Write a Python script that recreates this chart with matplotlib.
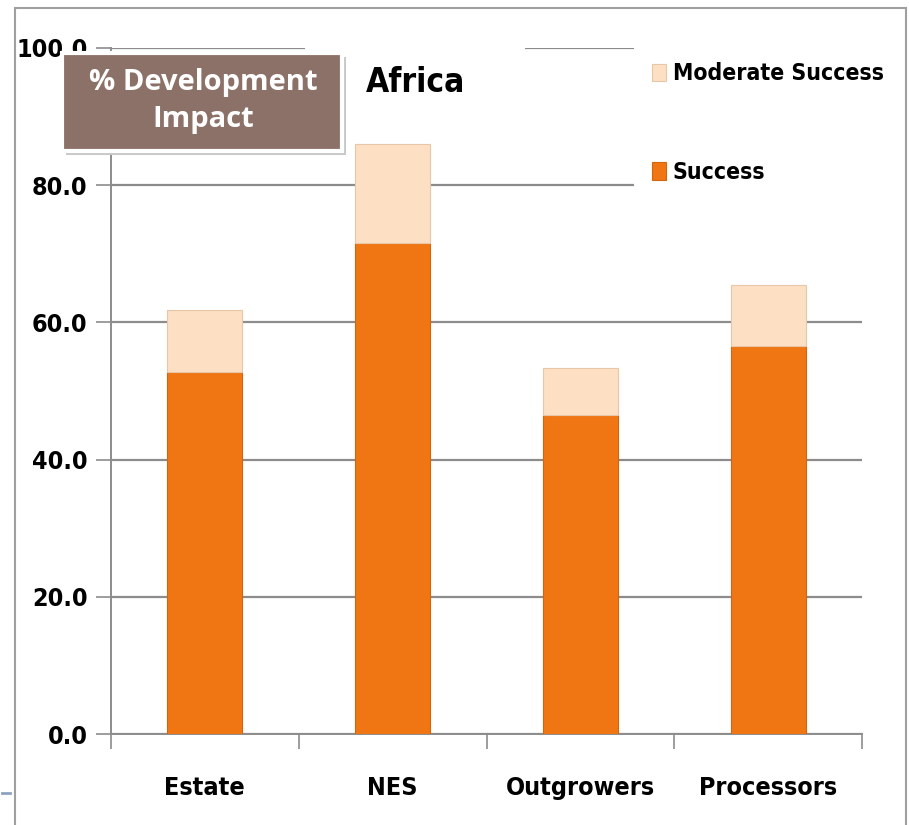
import matplotlib
matplotlib.use("Agg")
import matplotlib.pyplot as plt
import numpy as np
from matplotlib.patches import Rectangle
from matplotlib.lines import Line2D

plt.rcParams["font.family"] = ["DejaVu Sans"]
plt.rcParams["font.stretch"] = "condensed"

CATEGORIES = ["Estate", "NES", "Outgrowers", "Processors"]
SUCCESS = [52.8, 71.6, 46.5, 56.6]
MODERATE = [9.0, 14.4, 6.9, 8.9]
YTICKS = [0, 20, 40, 60, 80, 100]

COLOR_SUCCESS = "#F07613"
COLOR_MODERATE = "#FDE0C4"
GRID = "#8c8c8c"

fig = plt.figure(figsize=(9.09, 8.25), dpi=100)
fig.patch.set_facecolor("white")

# outer slide frame
fig.add_artist(Rectangle((15 / 909, -0.01), 891 / 909, 1 - 8 / 825 + 0.01,
                         transform=fig.transFigure, fill=False,
                         edgecolor="#a0a0a0", linewidth=1.5))
fig.add_artist(Line2D([2 / 909, 10 / 909], [1 - 793 / 825] * 2,
                      transform=fig.transFigure, color="#8fa3c0", linewidth=2))

ax = fig.add_axes([111 / 909, 1 - 734 / 825, 751 / 909, 686 / 825])
x = np.arange(len(CATEGORIES))
w = 0.4
ax.bar(x, SUCCESS, w, color=COLOR_SUCCESS, edgecolor="#d4650f", linewidth=0.8,
       label="Success", zorder=3)
ax.bar(x, MODERATE, w, bottom=SUCCESS, color=COLOR_MODERATE, edgecolor="#e8c7a8",
       linewidth=0.8, label="Moderate Success", zorder=3)

ax.set_xlim(-0.5, len(CATEGORIES) - 0.5)
ax.set_ylim(0, 100)
ax.set_yticks(YTICKS)
ax.set_yticklabels([f"{v:.1f}" for v in YTICKS], fontsize=18, fontweight="bold")
ax.set_xticks(x)
ax.set_xticklabels(CATEGORIES, fontsize=18, fontweight="bold")
ax.set_xticks(np.arange(-0.5, len(CATEGORIES)), minor=True)
ax.tick_params(axis="x", which="major", length=0, pad=30)
ax.tick_params(axis="x", which="minor", length=11, color=GRID, width=1.2)
ax.tick_params(axis="y", length=11, color=GRID, width=1.2, pad=6)
ax.yaxis.grid(True, color=GRID, linewidth=1.6, zorder=0)
ax.set_axisbelow(True)
for side in ["top", "right"]:
    ax.spines[side].set_visible(False)
for side in ["left", "bottom"]:
    ax.spines[side].set_color(GRID)
    ax.spines[side].set_linewidth(1.4)

ax.text(0.405, 0.95, "Africa", transform=ax.transAxes, ha="center", va="center",
        fontsize=24, fontweight="bold", zorder=2.5,
        bbox=dict(boxstyle="square,pad=1.8", facecolor="white", edgecolor="none"))

handles, labels = ax.get_legend_handles_labels()
leg = ax.legend(handles[::-1], labels[::-1], loc="upper left",
                bbox_to_anchor=(634 / 909, 1 - 44 / 825), bbox_transform=fig.transFigure,
                fontsize=16.5, frameon=True, facecolor="white", edgecolor="none",
                framealpha=1, handlelength=0.6, handleheight=0.8, handletextpad=0.3,
                labelspacing=3.3, borderpad=0.8, borderaxespad=0)
for t in leg.get_texts():
    t.set_fontweight("bold")
leg.set_zorder(6)

# "% Development Impact" label box with shadow
fig.add_artist(Rectangle((66 / 909, 1 - 155 / 825), 280 / 909, 98 / 825,
                         transform=fig.transFigure, facecolor="#c8c8c8",
                         edgecolor="none", zorder=7))
fig.add_artist(Rectangle((62 / 909, 1 - 151 / 825), 280 / 909, 98 / 825,
                         transform=fig.transFigure, facecolor="#8C7168",
                         edgecolor="white", linewidth=3, zorder=8))
fig.text(203 / 909, 1 - 101 / 825, "% Development\nImpact", ha="center", va="center",
         color="white", fontsize=21, fontweight="bold", stretch="normal",
         family=["Open Sans", "DejaVu Sans"], linespacing=1.4, zorder=9)

fig.savefig("out.png", dpi=100)
